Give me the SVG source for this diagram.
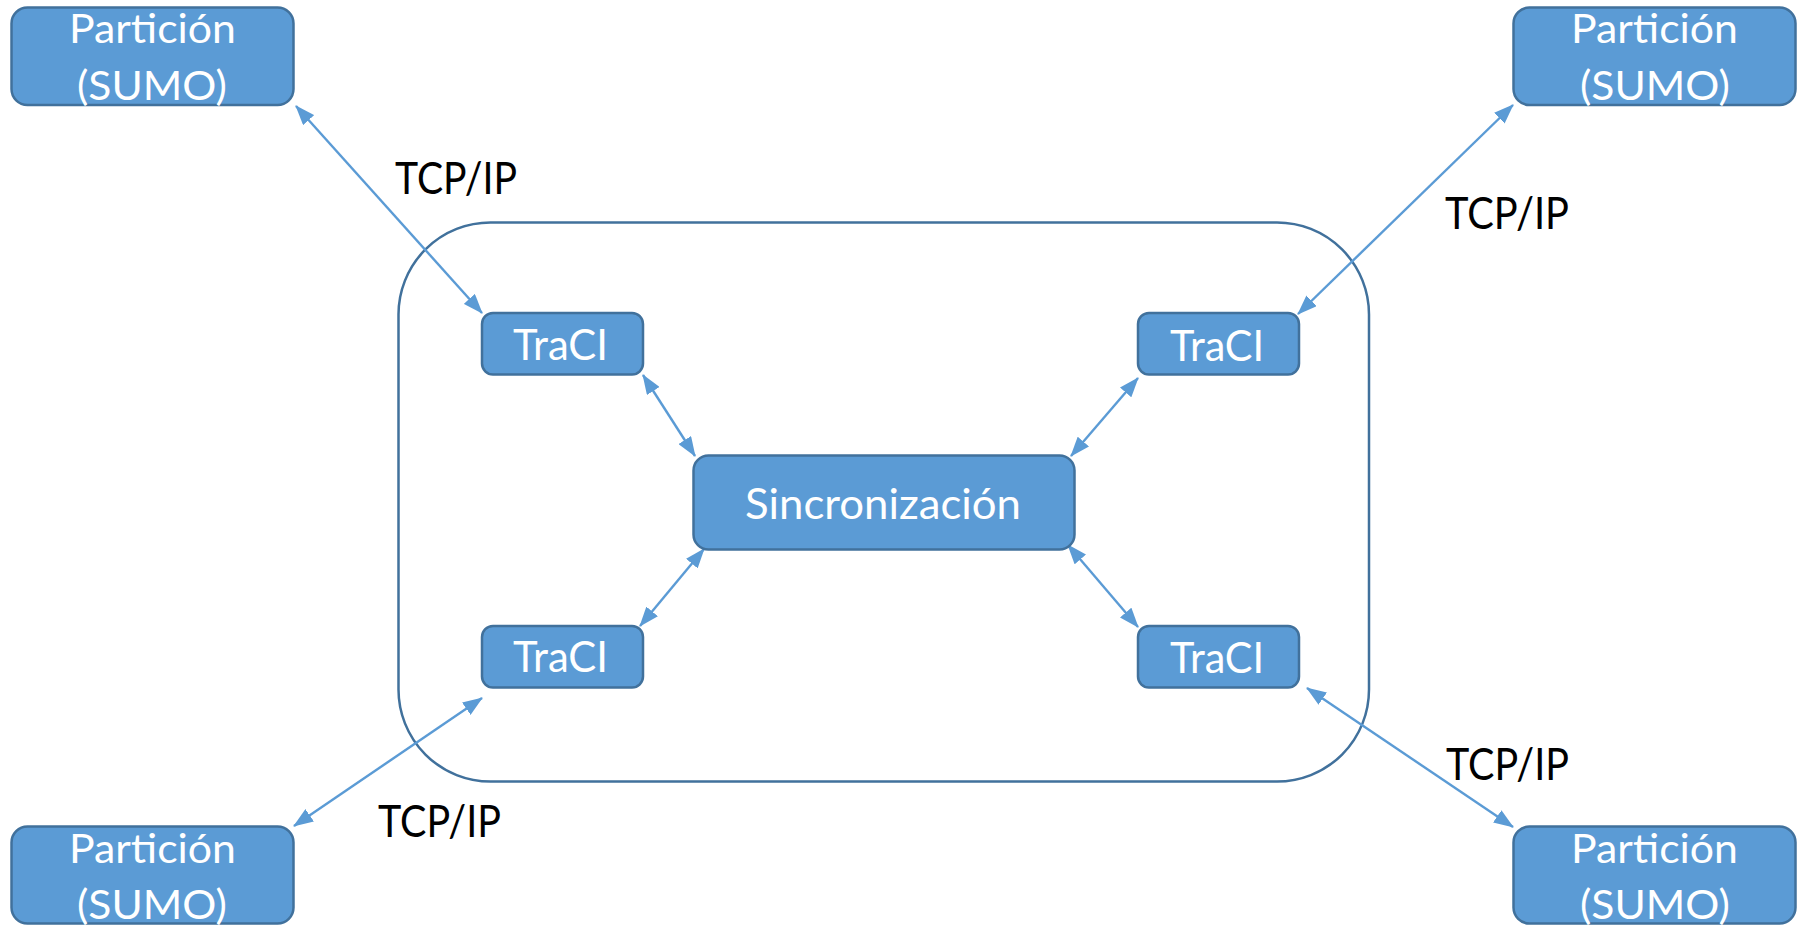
<svg xmlns="http://www.w3.org/2000/svg" width="1807" height="937" viewBox="0 0 1807 937">
  <style>
    .box { fill: #5B9BD5; stroke: #41719C; stroke-width: 2.5; }
    .frame { fill: none; stroke: #41719C; stroke-width: 2.5; }
    .lbl { font-family: Lato, "Open Sans", "Liberation Sans", sans-serif; fill: #FFFFFF; }
    .part { font-size: 40px; }
    .big { font-size: 43px; }
    .proto { font-family: Lato, "Open Sans", "Liberation Sans", sans-serif; font-size: 44px; fill: #000000; }
    .link { stroke: #5B9BD5; stroke-width: 2.4; fill: none; marker-start: url(#tip); marker-end: url(#tip); }
  </style>
  <defs>
    <marker id="tip" viewBox="0 0 20 15" refX="19" refY="7.5" markerWidth="20" markerHeight="15" markerUnits="userSpaceOnUse" orient="auto-start-reverse">
      <path d="M0,0 L20,7.5 L0,15 z" fill="#5B9BD5"/>
    </marker>
  </defs>

  <rect width="1807" height="937" fill="#FFFFFF"/>

  <!-- enclosing frame around the synchronisation layer -->
  <rect id="frame" class="frame" x="398.5" y="222.5" width="970.5" height="559" rx="92" ry="92"/>

  <!-- connectors -->
  <g id="connectors">
    <line class="link" x1="296" y1="106" x2="482" y2="313"/>
    <line class="link" x1="1513" y1="105" x2="1298" y2="314"/>
    <line class="link" x1="482" y1="698" x2="294" y2="826"/>
    <line class="link" x1="1307" y1="688" x2="1513" y2="827"/>
    <line class="link" x1="643" y1="375" x2="695" y2="456"/>
    <line class="link" x1="640" y1="626" x2="704" y2="549"/>
    <line class="link" x1="1138" y1="378" x2="1071" y2="456"/>
    <line class="link" x1="1138" y1="627" x2="1068" y2="545"/>
  </g>

  <!-- link labels -->
  <g id="labels">
    <text class="proto" x="395" y="194" textLength="122" lengthAdjust="spacingAndGlyphs">TCP/IP</text>
    <text class="proto" x="1445" y="229" textLength="124" lengthAdjust="spacingAndGlyphs">TCP/IP</text>
    <text class="proto" x="378" y="837" textLength="123" lengthAdjust="spacingAndGlyphs">TCP/IP</text>
    <text class="proto" x="1446" y="780" textLength="123" lengthAdjust="spacingAndGlyphs">TCP/IP</text>
  </g>

  <!-- SUMO partitions -->
  <g id="part-tl">
    <rect class="box" x="11.5" y="7.5" width="282" height="97.5" rx="16"/>
    <text class="lbl part" x="69" y="43" textLength="167" lengthAdjust="spacingAndGlyphs">Partición</text>
    <text class="lbl part" x="77" y="100" textLength="150" lengthAdjust="spacingAndGlyphs">(SUMO)</text>
  </g>
  <g id="part-tr">
    <rect class="box" x="1513.5" y="7.5" width="282" height="97.5" rx="16"/>
    <text class="lbl part" x="1571" y="43" textLength="167" lengthAdjust="spacingAndGlyphs">Partición</text>
    <text class="lbl part" x="1580" y="100" textLength="150" lengthAdjust="spacingAndGlyphs">(SUMO)</text>
  </g>
  <g id="part-bl">
    <rect class="box" x="11.5" y="826.5" width="282" height="97" rx="16"/>
    <text class="lbl part" x="69" y="863" textLength="167" lengthAdjust="spacingAndGlyphs">Partición</text>
    <text class="lbl part" x="77" y="919" textLength="150" lengthAdjust="spacingAndGlyphs">(SUMO)</text>
  </g>
  <g id="part-br">
    <rect class="box" x="1513.5" y="826.5" width="282" height="97" rx="16"/>
    <text class="lbl part" x="1571" y="863" textLength="167" lengthAdjust="spacingAndGlyphs">Partición</text>
    <text class="lbl part" x="1580" y="919" textLength="150" lengthAdjust="spacingAndGlyphs">(SUMO)</text>
  </g>

  <!-- TraCI endpoints -->
  <g id="traci-tl">
    <rect class="box" x="482" y="313" width="161" height="61.5" rx="11"/>
    <text class="lbl big" x="513" y="360" textLength="95" lengthAdjust="spacingAndGlyphs">TraCI</text>
  </g>
  <g id="traci-tr">
    <rect class="box" x="1138" y="313" width="161" height="61.5" rx="11"/>
    <text class="lbl big" x="1170" y="360.5" textLength="94" lengthAdjust="spacingAndGlyphs">TraCI</text>
  </g>
  <g id="traci-bl">
    <rect class="box" x="482" y="626" width="161" height="61.5" rx="11"/>
    <text class="lbl big" x="513" y="672" textLength="95" lengthAdjust="spacingAndGlyphs">TraCI</text>
  </g>
  <g id="traci-br">
    <rect class="box" x="1138" y="626" width="161" height="61.5" rx="11"/>
    <text class="lbl big" x="1170" y="672.5" textLength="94" lengthAdjust="spacingAndGlyphs">TraCI</text>
  </g>

  <!-- central synchroniser -->
  <g id="sync">
    <rect class="box" x="693.5" y="455.5" width="381" height="94" rx="15"/>
    <text class="lbl big" x="745" y="519" textLength="276" lengthAdjust="spacingAndGlyphs">Sincronización</text>
  </g>
</svg>
